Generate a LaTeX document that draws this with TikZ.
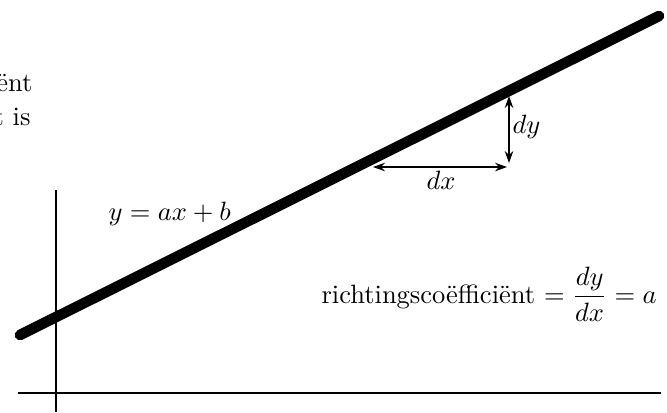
\documentclass[tikz,border=0pt]{standalone}
\usetikzlibrary{arrows.meta}
\begin{document}
\begin{tikzpicture}[x=0.3774pt,y=-0.3774pt,
  axisline/.style={line width=0.4pt},
  graphline/.style={line width=4pt,line cap=round},
  measure/.style={line width=0.4pt,{Stealth[length=4.5pt,width=3.2pt]}-{Stealth[length=4.5pt,width=3.2pt]}},
  lbl/.style={inner sep=0pt,font=\normalsize}]
\useasboundingbox (0,0) rectangle (667,412);
% axes
\coordinate (xa) at (18,393);
\coordinate (xb) at (661,393);
\coordinate (ya) at (56,412);
\coordinate (yb) at (56,190);
\draw[axisline] (xa) -- (xb);
\draw[axisline] (ya) -- (yb);
% graph
\coordinate (ga) at (20,335);
\coordinate (gb) at (659,16);
\draw[graphline] (ga) -- (gb);
% dx, dy
\coordinate (dya) at (509,96);
\coordinate (dyb) at (509,163);
\coordinate (dxa) at (373,167);
\coordinate (dxb) at (507,167);
\draw[measure] (dya) -- (dyb);
\draw[measure] (dxa) -- (dxb);
\node[lbl,anchor=base west] (dylbl) at (512,133) {$dy$};
\node[lbl,anchor=base] (dxlbl) at (441,189) {$dx$};
% labels
\node[lbl,anchor=base west] (eq) at (108,220) {$y=ax+b$};
\node[lbl,anchor=base west] (rc) at (321,303) {richtingscoëfficiënt $\displaystyle=\frac{dy}{dx}=a$};
\node[lbl,anchor=base east] (t1) at (33,91) {ënt};
\node[lbl,anchor=base east] (t2) at (31,125) {t is};
\end{tikzpicture}
\end{document}
